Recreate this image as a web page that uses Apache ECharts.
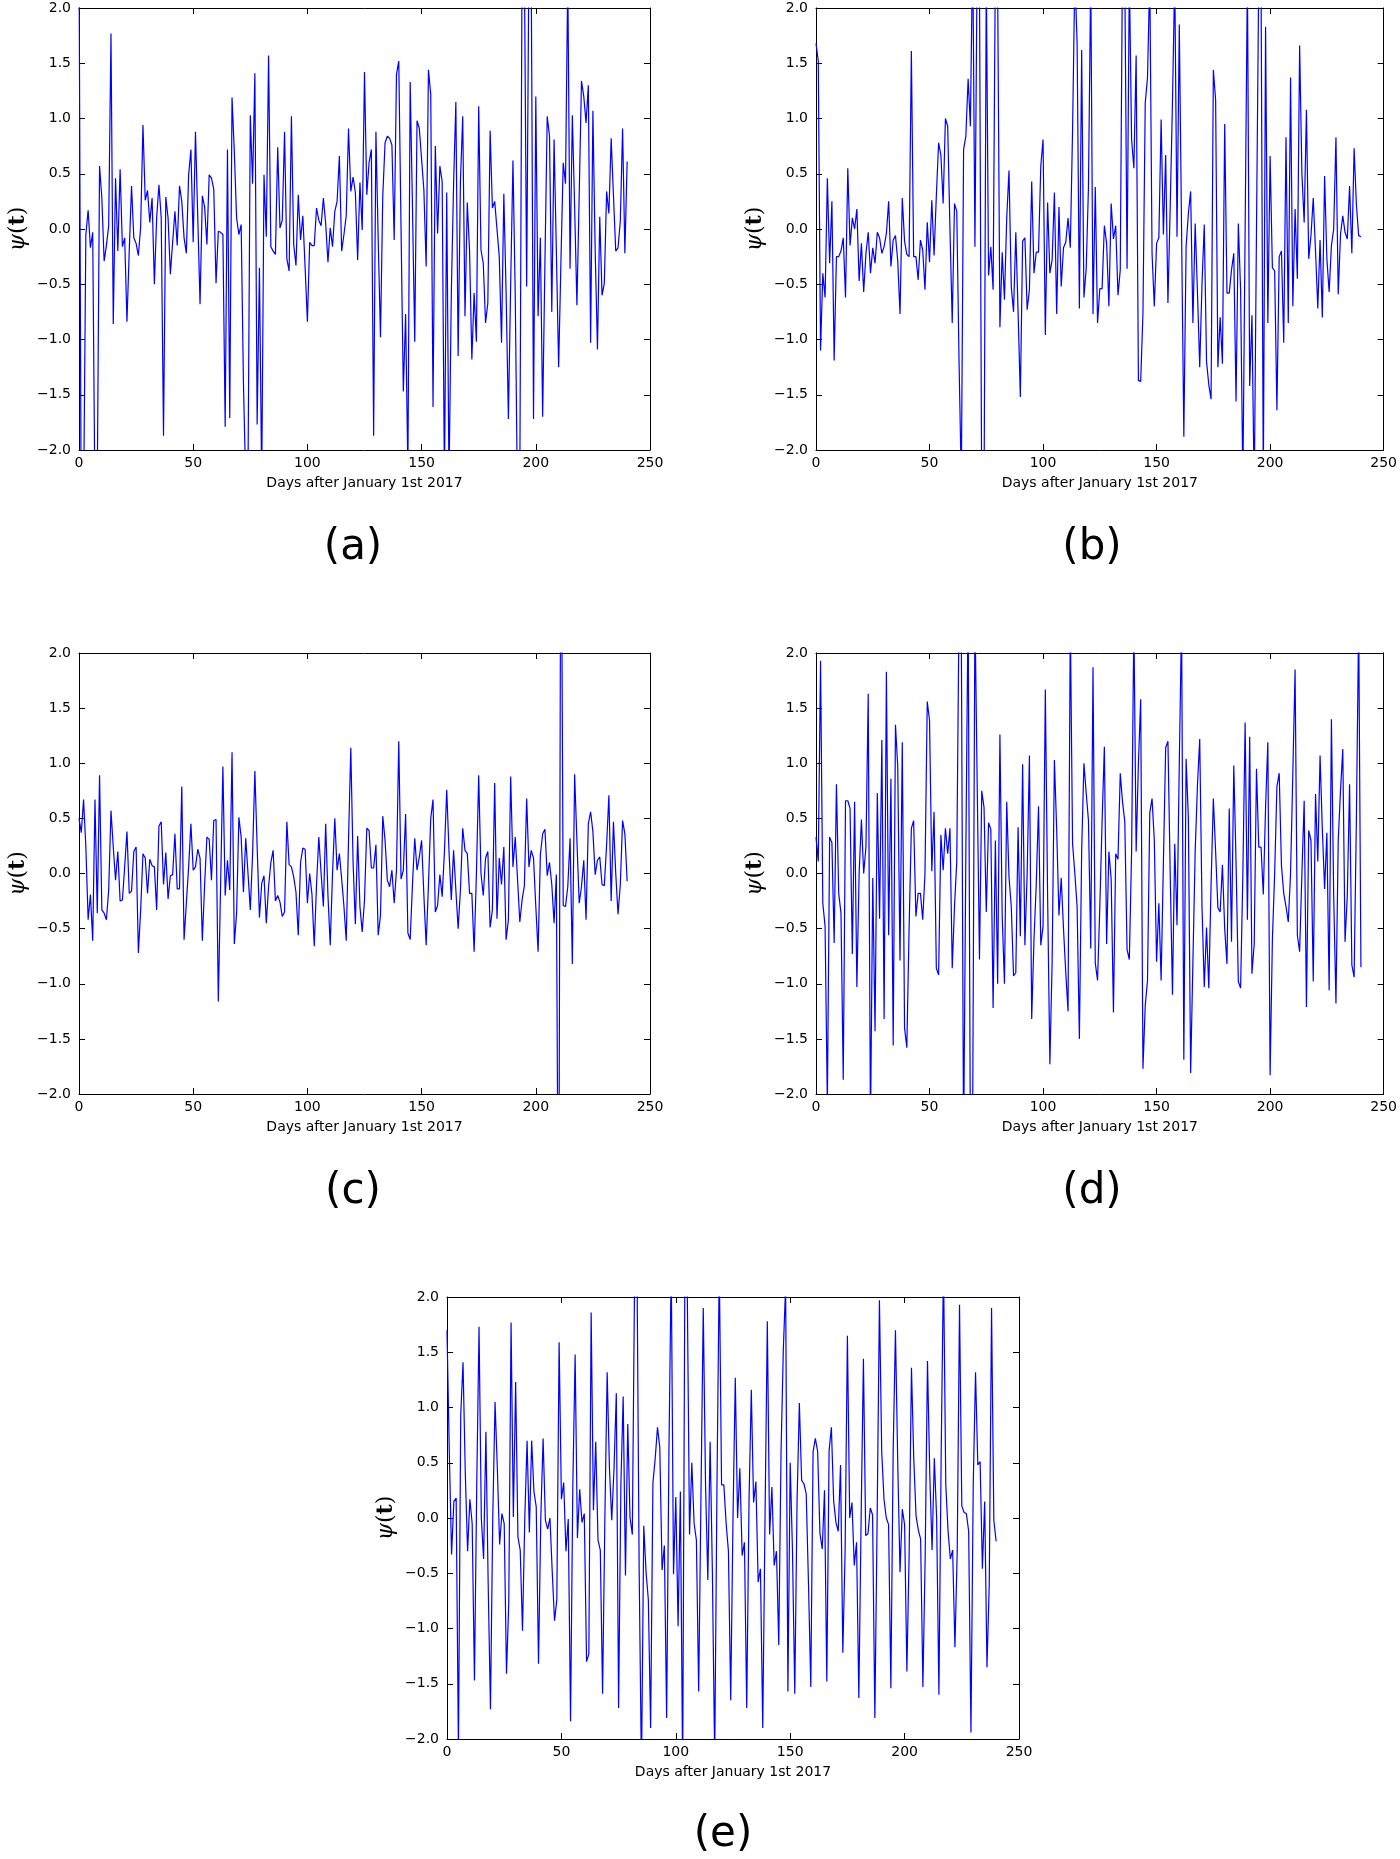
<!DOCTYPE html>
<html>
<head>
<meta charset="utf-8">
<script src="https://cdn.jsdelivr.net/npm/echarts@6/dist/echarts.min.js"></script>
<style>
html, body { margin: 0; padding: 0; background: #fff; }
#chart { width: 1400px; height: 1859px; }
</style>
</head>
<body>
<div id="chart"></div>
<script>
// psi(t) per day, day 0 .. 240
const psiA = [
  2.6, -2.8, -2.5, -0.05, 0.17, -0.17, -0.03, -2.5, -2.3, 0.57,
  0.28, -0.29, -0.15, 0.03, 1.77, -0.86, 0.46, -0.2, 0.54, -0.16,
  -0.08, -0.84, -0.2, 0.39, -0.08, -0.13, -0.24, 0.02, 0.94, 0.26,
  0.35, 0.06, 0.28, -0.5, 0.1, 0.4, 0.1, -1.87, 0.29, 0.1,
  -0.41, -0.12, 0.16, -0.15, 0.39, 0.25, -0.08, -0.22, 0.49, 0.72,
  -0.12, 0.88, 0.1, -0.68, 0.3, 0.2, -0.14, 0.49, 0.46, 0.36,
  -0.49, -0.02, -0.03, -0.05, -1.79, 0.72, -1.71, 1.19, 0.7, 0.1,
  -0.05, 0.04, -1.4, -2.3, -2.2, 1.03, 0.41, 1.41, -1.77, -0.35,
  -2.3, 0.49, -0.07, 1.57, -0.16, -0.2, -0.23, 0.74, 0.01, 0.08,
  0.88, -0.27, -0.38, 1.02, -0.14, -0.33, 0.31, -0.1, 0.12, -0.35,
  -0.84, -0.12, -0.15, -0.15, 0.19, 0.08, 0.03, 0.28, 0.05, -0.3,
  0.01, -0.16, 0.16, 0.25, 0.66, -0.2, -0.05, 0.12, 0.91, 0.34,
  0.47, 0.33, -0.28, 0.42, -0.01, 1.42, 0.31, 0.6, 0.72, -1.87,
  0.88, -0.1, -0.98, 0.3, 0.78, 0.84, 0.82, 0.76, -0.1, 1.4,
  1.52, 0.0, -1.47, -0.77, -2.2, 1.33, 0.2, -1.02, 0.98, 0.91,
  0.63, 0.35, -0.34, 1.44, 1.22, -1.61, 0.75, -0.04, 0.57, 0.43,
  -2.3, 0.33, -2.3, -0.6, 0.4, 1.15, -1.15, 0.43, 1.02, -0.79,
  0.24, -0.2, -1.18, -0.58, -1.02, 1.11, -0.19, -0.31, -0.85, -0.67,
  0.89, 0.19, 0.25, 0.0, -0.25, -1.03, 0.32, -0.58, -1.72, -0.5,
  0.62, -0.6, -2.5, -2.3, 2.5, 2.4, -0.52, 2.5, 2.3, -1.72,
  1.2, -0.79, -0.08, -1.7, -0.3, 1.02, 0.84, -0.75, 0.81, -0.2,
  -1.25, -0.3, 0.6, 0.41, 2.3, -0.36, 1.03, 0.2, -0.69, 0.3,
  1.34, 1.2, 0.96, 1.3, -1.03, 1.07, -0.2, -1.09, 0.11, -0.6,
  -0.49, 0.34, 0.14, 0.82, 0.3, -0.2, -0.17, 0.07, 0.91, -0.22,
  0.61
];
const psiB = [
  1.68, 1.52, -1.1, -0.4, -0.62, 0.46, -0.31, 0.25, -1.19, -0.25,
  -0.25, -0.2, -0.08, -0.62, 0.55, -0.15, 0.1, 0.0, 0.18, -0.47,
  -0.13, -0.57, -0.22, -0.03, -0.4, -0.17, -0.31, -0.03, -0.08, -0.22,
  -0.16, -0.04, 0.25, -0.34, -0.1, -0.06, -0.29, -0.77, 0.28, -0.11,
  -0.23, -0.25, 1.61, -0.25, -0.25, -0.46, -0.1, -0.19, -0.55, 0.06,
  -0.3, 0.26, -0.24, 0.3, 0.78, 0.67, 0.23, 1.0, 0.93, 0.0,
  -0.85, 0.23, 0.16, -1.2, -2.3, 0.72, 0.84, 1.36, 0.93, 2.6,
  -0.16, 2.5, 2.2, -2.5, -2.5, 2.3, -0.42, -0.16, -0.55, 2.4,
  2.2, -0.89, -0.21, -0.64, 0.1, 0.53, -0.52, -0.75, -0.03, -0.75,
  -1.52, -0.11, -0.08, -0.73, -0.55, 0.43, -0.4, -0.21, -0.21, 0.57,
  0.81, -0.96, 0.24, -0.4, -0.28, 0.33, -0.77, 0.2, -0.52, -0.17,
  -0.12, 0.1, -0.17, 0.9, 2.3, 1.68, -0.72, 1.62, -0.62, -0.36,
  0.38, 2.3, -0.77, 0.38, -0.85, -0.54, -0.54, 0.03, -0.13, -0.7,
  0.23, -0.09, 0.03, -0.6, -0.37, 2.5, 2.3, -0.36, 2.3, 0.81,
  0.55, 1.57, -1.37, -1.38, -0.76, 1.14, 1.37, 2.3, -0.22, -0.7,
  -0.13, -0.08, 0.99, -0.05, 0.67, -0.67, 0.2, 1.15, 2.3, -0.07,
  1.85, 0.0, -1.88, -0.16, 0.14, 0.34, -0.85, 0.05, -0.57, -1.25,
  -0.5, 0.04, -1.2, -1.41, -1.54, 1.44, 1.17, -1.25, -0.8, -1.22,
  0.95, -0.58, -0.58, -0.37, -0.22, -1.56, 0.05, -0.55, -2.3, 0.0,
  2.3, -1.42, -0.78, -2.4, 0.0, 2.3, 2.3, -2.3, 1.83, -0.85,
  0.66, -0.35, -0.38, -1.64, -0.25, -0.2, -1.03, 0.83, -0.85, 1.37,
  -0.7, 0.18, -0.45, 1.66, 0.5, 0.06, 1.08, -0.27, -0.06, 0.28,
  -0.2, -0.72, -0.1, -0.8, 0.48, -0.27, -0.57, -0.15, 0.0, 0.83,
  -0.59, -0.05, 0.12, -0.03, -0.09, 0.39, -0.22, 0.73, 0.22, -0.06,
  -0.07
];
const psiC = [
  0.5, 0.37, 0.67, 0.24, -0.42, -0.19, -0.61, 0.67, -0.36, 0.89,
  -0.33, -0.36, -0.42, -0.15, 0.57, 0.24, -0.06, 0.2, -0.25, -0.24,
  0.06, 0.38, -0.18, -0.16, 0.2, 0.24, -0.72, -0.33, 0.18, 0.14,
  -0.18, 0.13, 0.07, 0.06, -0.33, 0.43, 0.47, -0.1, 0.19, -0.23,
  -0.02, -0.01, 0.36, -0.14, -0.14, 0.79, -0.6, -0.27, 0.06, 0.45,
  0.03, 0.06, 0.22, 0.14, -0.61, -0.1, 0.33, 0.31, -0.06, 0.48,
  0.49, -1.16, -0.1, 0.97, -0.2, 0.12, -0.15, 1.1, -0.64, -0.36,
  0.51, 0.33, -0.17, 0.32, 0.0, -0.33, 0.18, 0.93, 0.24, -0.4,
  -0.09, -0.02, -0.45, -0.12, 0.1, 0.21, -0.25, -0.2, -0.26, -0.39,
  -0.35, 0.47, 0.08, 0.06, -0.03, -0.17, -0.56, 0.1, 0.23, 0.22,
  -0.27, 0.0, -0.19, -0.66, -0.1, 0.33, 0.0, -0.3, 0.45, -0.2,
  -0.65, 0.0, 0.5, 0.03, 0.18, -0.05, -0.3, -0.61, 0.3, 1.14,
  0.1, -0.46, 0.34, -0.3, -0.53, -0.24, 0.41, 0.39, 0.05, 0.05,
  0.26, -0.56, -0.38, 0.52, 0.3, -0.06, -0.12, 0.03, -0.27, 0.03,
  1.2, -0.05, 0.03, 0.54, -0.54, -0.6, -0.1, 0.32, 0.03, 0.15,
  0.3, -0.2, -0.65, -0.1, 0.5, 0.67, -0.35, -0.29, -0.01, -0.21,
  0.2, 0.76, 0.2, -0.24, 0.21, -0.15, -0.5, -0.15, 0.41, 0.21,
  0.18, -0.18, -0.18, -0.71, 0.0, 0.89, 0.0, -0.2, 0.14, 0.2,
  -0.49, -0.33, 0.82, -0.41, 0.14, -0.1, 0.24, -0.6, -0.42, 0.88,
  0.06, 0.33, -0.05, -0.44, -0.24, -0.11, 0.68, 0.06, 0.21, 0.14,
  -0.3, -0.71, 0.17, 0.36, 0.4, -0.02, 0.1, -0.1, -0.45, -0.01,
  -4, 4, -0.29, -0.3, -0.12, 0.32, -0.82, 0.9, 0.3, -0.27,
  -0.12, 0.12, -0.42, 0.45, 0.56, 0.38, -0.01, 0.12, 0.15, -0.1,
  -0.11, 0.26, 0.71, -0.25, 0.47, 0.0, -0.37, -0.1, 0.48, 0.36,
  -0.07
];
const psiD = [
  0.33, 0.11, 1.93, -0.27, -0.48, -2.1, 0.33, 0.28, -0.63, 0.81,
  -0.18, -0.36, -1.87, 0.66, 0.66, 0.59, -0.73, 0.65, -1.03, 0.0,
  0.49, 0.0, 0.24, 1.63, -2.3, -0.04, -1.43, 0.73, -0.41, 1.21,
  -1.32, 1.83, -0.56, 0.86, -1.56, 1.35, 0.97, -0.79, 1.19, -1.4,
  -1.58, -0.5, 0.41, 0.48, -0.39, -0.18, -0.18, -0.42, 0.0, 1.56,
  1.39, 0.02, 0.56, -0.86, -0.92, 0.35, 0.03, 0.41, 0.18, 0.41,
  -0.86, -0.3, 0.11, 2.4, 2.2, -2.5, 0.2, 2.5, -2.5, -2.2,
  2.4, 0.8, -0.78, 0.75, 0.6, -0.35, 0.46, 0.4, -1.22, 0.3,
  -1.0, 1.26, -0.38, -1.0, 0.65, -0.03, -0.3, -0.93, -0.9, 0.42,
  -0.57, 0.99, -0.65, 0.0, 1.07, -1.32, -0.6, -0.1, 0.61, -0.65,
  -0.48, 1.67, -0.2, -1.73, -0.8, 1.03, 0.4, -0.38, -0.04, -0.5,
  -0.9, -1.25, 2.3, 0.27, 0.0, -0.3, -1.5, 0.2, 1.0, 0.73,
  0.48, -0.68, 1.87, -0.81, -0.97, -0.3, 0.47, 1.15, -0.64, 0.2,
  -0.05, -1.26, 0.18, 0.13, 0.91, 0.65, 0.47, -0.69, -0.78, 0.2,
  2.3, 0.2, 1.0, 1.58, -1.77, -1.2, -0.97, 0.55, 0.68, 0.3,
  -0.8, -0.27, -0.97, 0.1, 1.14, 1.2, 0.0, -1.1, 0.27, -0.47,
  1.0, 2.3, -1.69, 1.04, 0.5, -1.81, -0.8, 0.2, 0.8, 1.22,
  -0.3, -1.03, -0.49, -1.04, -0.1, 0.68, 0.2, -0.31, -0.35, 0.08,
  -0.5, -0.82, 0.59, -0.62, 0.98, 0.1, -0.98, -1.04, 0.0, 1.37,
  -0.42, 1.24, -0.91, -0.64, 0.95, 0.24, 0.24, -0.19, 0.6, 1.19,
  -1.83, -0.6, 0.0, 0.79, 0.91, 0.07, -0.18, -0.3, -0.44, 0.0,
  0.9, 1.85, -0.56, -0.71, 0.0, 0.66, -1.21, 0.39, 0.3, -0.98,
  0.72, 0.11, 1.07, 0.4, -0.14, 0.37, -1.06, 1.4, -0.2, -1.18,
  0.3, 0.75, 1.13, -0.62, -0.2, 0.81, -0.83, -0.94, 0.5, 2.3,
  -0.85
];
const psiE = [
  1.7, 0.6, -0.33, 0.15, 0.18, -2.1, 0.93, 1.41, 0.4, -0.3,
  0.17, -0.05, -1.47, 0.3, 1.73, 0.0, -0.37, 0.78, -0.6, -1.73,
  0.0, 1.05, 0.45, -0.24, 0.04, -0.05, -1.41, -0.76, 1.77, 0.01,
  1.23, -0.17, -0.29, -1.02, 0.0, 0.7, -0.13, 0.7, 0.24, 0.1,
  -1.32, 0.0, 0.72, -0.02, -0.1, 0.0, -0.49, -0.93, -0.74, 1.59,
  0.17, 0.32, -0.3, -0.01, -1.84, 0.3, 1.48, -0.18, 0.26, -0.04,
  0.04, -1.3, -1.23, 1.86, 0.07, 0.69, -0.2, -0.29, -1.59, 0.0,
  1.32, 0.45, -0.02, 0.45, 1.13, -1.72, 0.3, 1.1, -0.52, 0.85,
  0.0, -0.15, 2.2, 2.4, -0.5, -2.3, -0.07, -0.49, -0.74, -1.9,
  0.32, 0.54, 0.82, 0.64, -0.47, -0.25, -1.81, 0.6, 2.3, -0.51,
  0.19, -0.98, 0.24, -2.3, 2.4, 2.1, -0.15, 0.5, -0.05, -0.2,
  -1.57, 0.2, 1.9, 0.3, -0.56, 0.69, -0.5, -2.2, 0.3, 2.3,
  0.3, 0.3, -0.05, -0.3, -1.65, 0.0, 1.27, 0.0, 0.45, -0.34,
  -0.22, -1.72, 0.15, 1.16, 0.14, 0.33, -0.58, -0.46, -1.9, 0.0,
  1.78, -0.15, 0.28, -0.43, -0.3, -1.15, 0.6, 1.53, 2.1, -1.57,
  0.5, -0.3, -1.59, 0.15, 1.04, 0.34, 0.31, 0.22, -0.6, -1.53,
  0.6, 0.72, 0.6, -0.14, -0.28, 0.25, -1.48, 0.61, 0.82, 0.15,
  -0.04, -0.12, 0.48, -1.22, -0.3, 1.65, 0.0, 0.14, -0.43, -0.22,
  -1.63, 0.0, 1.44, -0.16, -0.14, 0.09, 0.03, -1.81, 0.0, 1.97,
  0.6, 0.17, 0.0, -0.06, -1.54, 0.6, 1.7, 0.5, -0.49, 0.08,
  -0.06, -1.39, -0.31, 1.36, 0.54, 0.02, -0.11, -0.19, -1.53, -0.33,
  1.42, 0.4, -0.29, 0.54, 0.0, -1.6, 0.6, 2.3, 0.3, -0.12,
  -0.37, -0.29, -1.17, -0.3, 1.93, 0.11, 0.05, 0.04, -0.12, -1.94,
  0.3, 1.32, 0.48, 0.51, -0.46, 0.15, -1.35, -0.6, 1.9, -0.02,
  -0.21
];
const panelSeries = [psiA, psiB, psiC, psiD, psiE];
const panelLetters = ["(a)", "(b)", "(c)", "(d)", "(e)"];
const xAxisTitle = "Days after January 1st 2017";

// plot boxes, in page pixels
const boxes = [
  { left: 79, top: 8, width: 571, height: 442 },
  { left: 816, top: 8, width: 571, height: 442 },
  { left: 79, top: 653, width: 571, height: 441 },
  { left: 816, top: 653, width: 571, height: 441 },
  { left: 447, top: 1297, width: 572, height: 442 },
];
// where the (a)..(e) captions sit (centre)
const captionPos = [[353, 548], [1092, 548], [353, 1192], [1092, 1192], [723, 1835]];

const FONT = "DejaVu Sans";
const frameLine = { show: true, onZero: false, lineStyle: { color: "#000", width: 1 } };
const innerTick = { show: true, inside: true, length: 6, lineStyle: { color: "#000", width: 1 } };

const fmtY = (v) => (v < 0 ? "\u2212" : "") + Math.abs(v).toFixed(1);

const grid = [], xAxis = [], yAxis = [], series = [];
boxes.forEach((b, i) => {
  grid.push(Object.assign({ containLabel: false }, b));
  // bottom axis with labels
  xAxis.push({
    type: "value", gridIndex: i, min: 0, max: 250, interval: 50,
    position: "bottom",
    axisLine: frameLine, axisTick: innerTick, splitLine: { show: false },
    axisLabel: { color: "#000", fontFamily: FONT, fontSize: 14, margin: 6 },
    name: xAxisTitle, nameLocation: "middle", nameGap: 26,
    nameTextStyle: { color: "#000", fontFamily: FONT, fontSize: 14 },
  });
  // top axis: frame + ticks only
  xAxis.push({
    type: "value", gridIndex: i, min: 0, max: 250, interval: 50,
    position: "top",
    axisLine: frameLine, axisTick: innerTick, splitLine: { show: false },
    axisLabel: { show: false },
  });
  yAxis.push({
    type: "value", gridIndex: i, min: -2, max: 2, interval: 0.5,
    position: "left",
    axisLine: frameLine, axisTick: innerTick, splitLine: { show: false },
    axisLabel: { color: "#000", fontFamily: FONT, fontSize: 14, margin: 8, formatter: fmtY },
    name: "{p|\u03C8}{q|(}{t|t}{q|)}", nameLocation: "middle", nameGap: 50, nameRotate: 90,
    nameTextStyle: {
      rich: {
        p: { fontFamily: "DejaVu Serif", fontStyle: "italic", fontSize: 22, color: "#000" },
        q: { fontFamily: "DejaVu Serif", fontSize: 22, color: "#000" },
        t: { fontFamily: "DejaVu Serif", fontWeight: "bold", fontSize: 22, color: "#000" },
      },
    },
  });
  yAxis.push({
    type: "value", gridIndex: i, min: -2, max: 2, interval: 0.5,
    position: "right",
    axisLine: frameLine, axisTick: innerTick, splitLine: { show: false },
    axisLabel: { show: false },
  });
  series.push({
    type: "line",
    xAxisIndex: 2 * i, yAxisIndex: 2 * i,
    data: panelSeries[i].map((v, day) => [day, v]),
    showSymbol: false, clip: true, animation: false,
    lineStyle: { color: "#0000ff", width: 1.2 },
  });
});

const graphic = captionPos.map((p, i) => ({
  type: "text", x: p[0], y: p[1],
  style: { text: panelLetters[i], font: "42px " + FONT, fill: "#000", align: "center", verticalAlign: "middle" },
}));

const chart = echarts.init(document.getElementById("chart"));
chart.setOption({
  backgroundColor: "#fff",
  animation: false,
  grid, xAxis, yAxis, series, graphic,
});
</script>
</body>
</html>
